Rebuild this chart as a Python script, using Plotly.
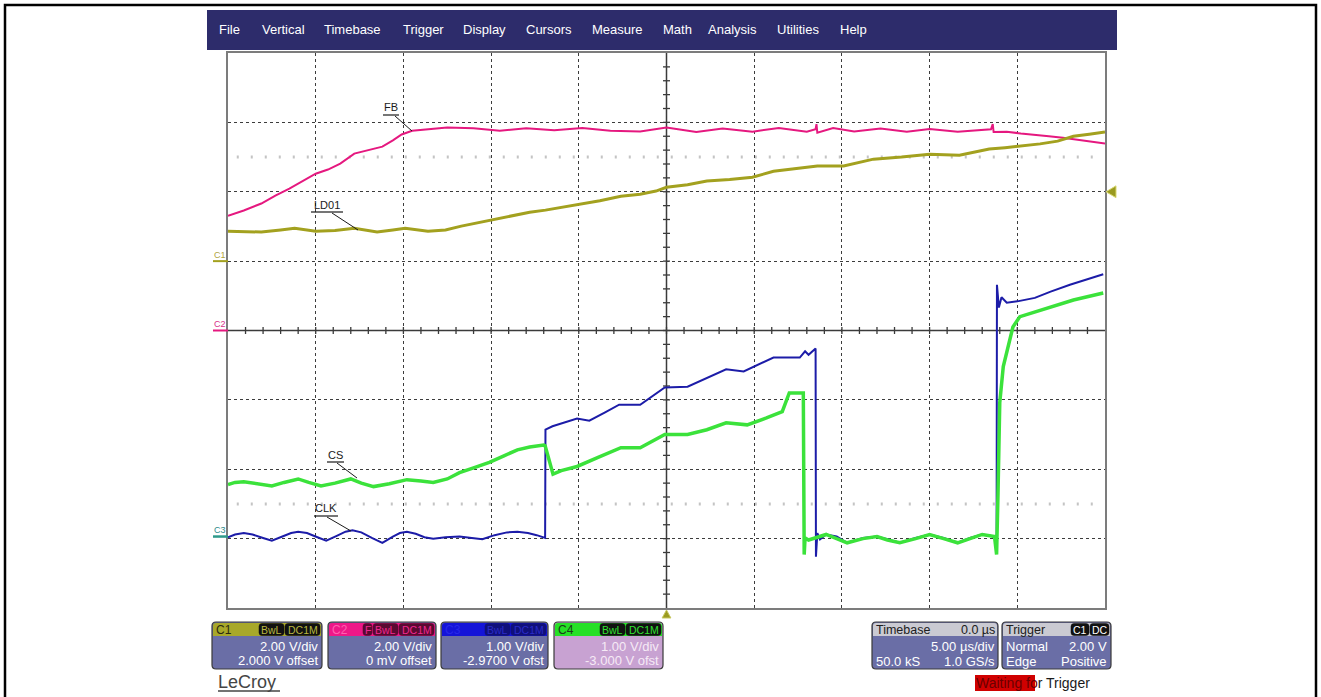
import plotly.graph_objects as go

# ---------------- data (time in microseconds, volts) ----------------
t_ld = [-25.0, -24.0, -23.1, -22.0, -21.2, -20.0, -18.9, -17.8, -16.5, -15.6,
        -14.9, -13.6, -12.6, -11.7, -10.8, -9.8, -8.8, -7.8, -6.9, -6.0,
        -5.0, -3.8, -2.6, -1.5, -0.6, 0.0, 1.2, 2.3, 3.6, 4.9,
        6.1, 7.3, 8.6, 10.1, 11.0, 11.8, 13.4, 15.0, 16.7, 17.6,
        18.4, 19.3, 20.2, 21.3, 22.3, 23.2, 24.1, 25.0]
v_ld = [0.86, 0.85, 0.84, 0.90, 0.95, 0.86, 0.88, 0.95, 0.84, 0.90,
        0.95, 0.86, 0.90, 1.01, 1.10, 1.21, 1.30, 1.41, 1.47, 1.55,
        1.64, 1.74, 1.87, 1.93, 2.02, 2.13, 2.20, 2.31, 2.35, 2.42,
        2.59, 2.66, 2.74, 2.74, 2.85, 2.94, 3.00, 3.08, 3.05, 3.15,
        3.23, 3.27, 3.31, 3.38, 3.46, 3.60, 3.66, 3.72]

t_fb = [-25.0, -24.1, -23.1, -22.3, -21.5, -20.6, -20.0, -19.3, -18.6, -17.8,
        -17.0, -16.2, -15.6, -15.1, -14.5, -13.6, -12.5, -11.0, -9.5, -8.0,
        -6.4, -4.8, -3.2, -1.5, 0.0, 1.7, 3.2, 4.9, 6.4, 8.0,
        8.5, 8.55, 8.6, 9.5, 10.7, 12.2, 13.7, 15.0, 16.6, 18.5,
        18.6, 18.65, 19.4, 20.2, 21.0, 21.8, 22.6, 23.4, 24.2, 25.0]
v_fb = [3.31, 3.46, 3.66, 3.89, 4.09, 4.35, 4.52, 4.64, 4.81, 5.10,
        5.19, 5.30, 5.48, 5.65, 5.76, 5.80, 5.85, 5.83, 5.76, 5.83,
        5.77, 5.84, 5.76, 5.74, 5.85, 5.72, 5.82, 5.73, 5.84, 5.73,
        5.80, 5.95, 5.70, 5.84, 5.74, 5.82, 5.73, 5.81, 5.73, 5.80,
        5.95, 5.72, 5.73, 5.68, 5.65, 5.60, 5.56, 5.50, 5.45, 5.39]

t_clk = [-25.0, -24.6, -24.1, -23.6, -23.0, -22.5, -21.9, -21.4, -21.0, -20.5,
         -19.9, -19.4, -18.8, -18.3, -17.9, -17.4, -16.8, -16.2, -15.6, -15.2,
         -14.8, -14.3, -13.8, -13.3, -12.6, -11.8, -11.1, -10.5, -9.8, -9.1,
         -8.5, -7.9, -7.4, -7.0, -6.92, -6.9, -6.5, -5.1, -4.4, -3.5,
         -2.7, -1.5, -0.7, -0.1, 1.2, 2.3, 3.4, 4.4, 5.3, 6.1,
         7.6, 7.9, 8.1, 8.5, 8.52, 8.6, 8.75, 9.1, 9.7, 10.3,
         11.2, 12.0, 12.6, 13.3, 14.2, 15.0, 15.8, 16.6, 17.3, 18.0,
         18.7, 18.82, 18.84, 18.95, 19.1, 19.4, 20.0, 21.0, 21.9, 23.0,
         24.9]
v_clk = [-0.01, 0.03, 0.05, 0.03, -0.02, -0.06, 0.00, 0.05, 0.07, 0.05,
         -0.01, -0.06, 0.01, 0.07, 0.09, 0.06, -0.02, -0.09, 0.00, 0.05,
         0.07, 0.04, -0.01, -0.03, -0.01, 0.00, -0.02, -0.04, 0.02, 0.06,
         0.07, 0.05, 0.02, -0.01, -0.02, 1.54, 1.59, 1.70, 1.67, 1.79,
         1.90, 1.90, 2.05, 2.15, 2.16, 2.29, 2.41, 2.38, 2.48, 2.58,
         2.58, 2.67, 2.62, 2.71, -0.29, 0.05, -0.04, 0.03, 0.00, -0.09,
         -0.02, 0.00, -0.04, -0.09, -0.02, 0.03, -0.02, -0.09, -0.02, 0.03,
         0.00, 0.00, 3.63, 3.30, 3.45, 3.37, 3.39, 3.44, 3.53, 3.63,
         3.78]

t_cs = [-25.0, -24.6, -24.1, -23.5, -22.9, -22.5, -21.8, -21.0, -20.4, -19.7,
        -18.9, -18.0, -17.4, -16.7, -15.8, -14.8, -14.0, -13.3, -12.5, -11.8,
        -11.0, -10.1, -9.3, -8.5, -7.8, -7.0, -6.92, -6.7, -6.47, -6.0,
        -5.1, -3.9, -2.6, -1.5, -0.1, 1.2, 2.3, 3.4, 4.6, 5.7,
        6.6, 7.0, 7.8, 7.85, 7.9, 8.1, 9.1, 9.7, 10.3, 11.2,
        12.0, 12.6, 13.3, 14.2, 15.0, 15.8, 16.6, 17.3, 18.0, 18.7,
        18.82, 18.9, 19.0, 19.2, 19.4, 19.75, 20.15, 20.9, 21.9, 23.2,
        24.9]
v_cs = [0.78, 0.81, 0.82, 0.80, 0.77, 0.76, 0.81, 0.86, 0.81, 0.76,
        0.80, 0.86, 0.80, 0.75, 0.79, 0.85, 0.83, 0.81, 0.86, 0.95,
        1.02, 1.10, 1.19, 1.28, 1.32, 1.35, 1.34, 1.15, 0.93, 0.98,
        1.04, 1.17, 1.31, 1.31, 1.50, 1.50, 1.57, 1.67, 1.64, 1.74,
        1.83, 2.10, 2.10, -0.23, 0.01, -0.02, 0.06, 0.00, -0.06, 0.00,
        0.03, -0.02, -0.06, 0.00, 0.06, 0.00, -0.06, 0.00, 0.06, 0.03,
        -0.23, 0.66, 1.96, 2.48, 2.68, 3.05, 3.20, 3.26, 3.34, 3.44,
        3.54]

trace_labels = ["LD01", "FB", "CLK", "CS"]
menu_items = ["File", "Vertical", "Timebase", "Trigger", "Display", "Cursors",
              "Measure", "Math", "Analysis", "Utilities", "Help"]

# channel settings: (volts/div, offset)
C1_SCALE, C1_OFS = 2.0, 2.0
C2_SCALE, C2_OFS = 2.0, 0.0
C3_SCALE, C3_OFS = 1.0, -2.97
C4_SCALE, C4_OFS = 1.0, -3.0
TB = 5.0  # us/div

def vrange(scale, ofs):
    c = -ofs
    return [c - 4 * scale, c + 4 * scale]

# ---------------- colors ----------------
OLIVE = "#A3A11F"
MAGENTA = "#E5187F"
BLUE = "#1C1CA8"
GREEN = "#3BE23B"

# ---------------- figure / layout geometry ----------------
W, H = 1321, 697
L, R, T, B = 228, 1105, 53, 608

def PX(x):
    return (x - L) / (R - L)

def PY(y):
    return (B - y) / (B - T)

fig = go.Figure()
fig.add_trace(go.Scatter(x=t_ld, y=v_ld, yaxis="y2", mode="lines",
                         line=dict(color=OLIVE, width=3), name="LD01"))
fig.add_trace(go.Scatter(x=t_fb, y=v_fb, yaxis="y", mode="lines",
                         line=dict(color=MAGENTA, width=2), name="FB"))
fig.add_trace(go.Scatter(x=t_clk, y=v_clk, yaxis="y3", mode="lines",
                         line=dict(color=BLUE, width=2), name="CLK"))
fig.add_trace(go.Scatter(x=t_cs, y=v_cs, yaxis="y4", mode="lines",
                         line=dict(color=GREEN, width=3.5), name="CS"))

shapes = []
ann = []

def rect(x0, y0, x1, y1, fill, line=None, lw=0):
    shapes.append(dict(type="rect", xref="paper", yref="paper",
                       x0=PX(x0), x1=PX(x1), y0=PY(y1), y1=PY(y0),
                       fillcolor=fill, line=dict(color=line or fill, width=lw),
                       layer="above"))

def rrect(x0, y0, x1, y1, fill, line="#3a3a3a", lw=1, r=4, top=True, bottom=True):
    rt = r if top else 0
    rb = r if bottom else 0
    def p(x, y):
        return f"{PX(x):.5f},{PY(y):.5f}"
    d = (f"M {p(x0 + rt, y0)} L {p(x1 - rt, y0)} Q {p(x1, y0)} {p(x1, y0 + rt)} "
         f"L {p(x1, y1 - rb)} Q {p(x1, y1)} {p(x1 - rb, y1)} "
         f"L {p(x0 + rb, y1)} Q {p(x0, y1)} {p(x0, y1 - rb)} "
         f"L {p(x0, y0 + rt)} Q {p(x0, y0)} {p(x0 + rt, y0)} Z")
    shapes.append(dict(type="path", xref="paper", yref="paper", path=d,
                       fillcolor=fill, line=dict(color=line, width=lw), layer="above"))

def seg(x0, y0, x1, y1, color, w=1):
    shapes.append(dict(type="line", xref="paper", yref="paper",
                       x0=PX(x0), x1=PX(x1), y0=PY(y0), y1=PY(y1),
                       line=dict(color=color, width=w), layer="above"))

def txt(x, y, s, size=12, color="#ffffff", xanchor="left", bg=None, family="Liberation Sans, Arial", pad=0):
    d = dict(xref="paper", yref="paper", x=PX(x), y=PY(y), text=s, showarrow=False,
             xanchor=xanchor, yanchor="middle", font=dict(size=size, color=color, family=family),
             borderpad=pad)
    if bg:
        d["bgcolor"] = bg
    ann.append(d)

# outer border
shapes.append(dict(type="rect", xref="paper", yref="paper", x0=PX(5), x1=PX(1316),
                   y0=PY(702), y1=PY(5), line=dict(color="#000000", width=2.5), layer="below"))

# menu bar
rect(207, 10, 1117, 50, "#2D2C6B")
menu_x = [218, 261, 323, 402, 462, 525, 591, 662, 707, 776, 839]
for m, mx in zip(menu_items, menu_x):
    txt(mx, 30, m, size=13, color="#ffffff",
        family="Liberation Sans Narrow, Arial Narrow, Liberation Sans, Arial")

# sparse dotted half-division rows
for yv in (5.0, -5.0):
    shapes.append(dict(type="line", xref="paper", yref="y", x0=0.01, x1=0.99, y0=yv, y1=yv,
                       line=dict(color="#c4c4c4", width=3, dash="2px,12px"), layer="below"))

# center cross with minor ticks
shapes.append(dict(type="line", xref="paper", yref="y", x0=0, x1=1, y0=0, y1=0,
                   line=dict(color="#3a3a3a", width=1.5), layer="below"))
shapes.append(dict(type="line", xref="x", yref="paper", x0=0, x1=0, y0=0, y1=1,
                   line=dict(color="#3a3a3a", width=1.5), layer="below"))
hx = 3.5 / (R - L)
hy = 3.5 / (B - T)
for k in range(-24, 25):
    shapes.append(dict(type="line", xref="x", yref="paper", x0=k, x1=k, y0=0.5 - hy, y1=0.5 + hy,
                       line=dict(color="#3a3a3a", width=1.3), layer="below"))
for k in range(-19, 20):
    yv = k * 0.4
    shapes.append(dict(type="line", xref="paper", yref="y", x0=0.5 - hx, x1=0.5 + hx, y0=yv, y1=yv,
                       line=dict(color="#3a3a3a", width=1.3), layer="below"))

# ground markers at left
txt(220, 255, "C1", size=9, color="#B0A440", xanchor="center")
shapes.append(dict(type="line", xref="paper", yref="y2", x0=PX(213), x1=PX(228), y0=0, y1=0,
                   line=dict(color=OLIVE, width=2)))
txt(220, 324, "C2", size=9, color="#D8308A", xanchor="center")
shapes.append(dict(type="line", xref="paper", yref="y", x0=PX(213), x1=PX(228), y0=0, y1=0,
                   line=dict(color=MAGENTA, width=2)))
txt(220, 530, "C3", size=9, color="#2E8A8A", xanchor="center")
shapes.append(dict(type="line", xref="paper", yref="y3", x0=PX(213), x1=PX(228), y0=0, y1=0,
                   line=dict(color="#2E9A8A", width=2.5)))

# trigger level marker (right) and trigger position marker (bottom)
tl = 2.0
shapes.append(dict(type="path", xref="paper", yref="y2",
                   path=f"M {PX(1106):.5f},{tl} L {PX(1116):.5f},{tl + 0.17} L {PX(1116):.5f},{tl - 0.17} Z",
                   fillcolor="#9A9A20", line=dict(color="#D8D870", width=1)))
shapes.append(dict(type="path", xref="x", yref="paper",
                   path=f"M -0.25,{PY(618):.5f} L 0.25,{PY(618):.5f} L 0,{PY(610):.5f} Z",
                   fillcolor="#9A9A20", line=dict(color="#C8C860", width=1)))

# trace labels with underline + leader
labels_geo = {
    "FB": ((391, 107), (383, 399, 115), (395, 116, 412, 131)),
    "LD01": ((327, 205), (311, 343, 212), (332, 213, 358, 230)),
    "CS": ((335, 455), (327, 344, 462), (337, 463, 357, 478)),
    "CLK": ((326, 508), (314, 338, 516), (327, 517, 351, 531)),
}
for name in trace_labels:
    (tx, ty), (ux0, ux1, uy), (lx0, ly0, lx1, ly1) = labels_geo[name]
    txt(tx, ty, name, size=11, color="#1a1a1a", xanchor="center")
    seg(ux0, uy, ux1, uy, "#1a1a1a", 1.2)
    seg(lx0, ly0, lx1, ly1, "#1a1a1a", 1)

# ---------------- bottom channel panels ----------------
BODY = "#6A6EA6"
panels = [
    (212, 322, "#A8A82A", "#2a2a10", "C1", ["BwL", "DC1M"], "#111111", "#B8B840", BODY, "#ffffff",
     "2.00 V/div", "2.000 V offset"),
    (328, 436, "#EE1888", "#FF60B0", "C2", ["F", "BwL", "DC1M"], "#5A0A32", "#F02890", BODY, "#ffffff",
     "2.00 V/div", "0 mV offset"),
    (441, 548, "#1414D8", "#2828E8", "C3", ["BwL", "DC1M"], "#10107A", "#2A2AC8", BODY, "#ffffff",
     "1.00 V/div", "-2.9700 V ofst"),
    (554, 663, "#26E026", "#1a3a1a", "C4", ["BwL", "DC1M"], "#111111", "#30E030", "#C8A2D2", "#F6EAF6",
     "1.00 V/div", "-3.000 V ofst"),
]
tag_w = {"F": 9, "BwL": 25, "DC1M": 35}
for (x0, x1, hc, htc, title, tags, tbg, tfg, bc, bfg, l1, l2) in panels:
    rrect(x0, 622, x1, 669, bc, line="#3a3a3a", lw=1.2, r=4)
    rrect(x0 + 1, 623, x1 - 1, 636, hc, line=hc, lw=0, r=3, bottom=False)
    txt(x0 + 3, 629.5, title, size=12, color=htc)
    xr = x1 - 2
    for tg in reversed(tags):
        w = tag_w[tg]
        rrect(xr - w, 623.5, xr, 635.5, tbg, line=tbg, lw=0.5, r=3)
        txt(xr - w / 2, 629.5, tg, size=10.5, color=tfg, xanchor="center")
        xr -= w + 1
    txt(x1 - 3, 646.5, l1, size=13, color=bfg, xanchor="right")
    txt(x1 - 3, 660.5, l2, size=13, color=bfg, xanchor="right")

# timebase panel
rrect(872, 622, 998, 669, BODY, line="#3a3a3a", lw=1.2, r=4)
rrect(873, 623, 997, 636, "#CACAD2", line="#CACAD2", lw=0, r=3, bottom=False)
txt(875, 629.5, "Timebase", size=12.5, color="#202020")
txt(996, 629.5, "0.0 µs", size=12.5, color="#202020", xanchor="right")
txt(996, 646.5, "5.00 µs/div", size=13, color="#ffffff", xanchor="right")
txt(875, 661, "50.0 kS", size=13, color="#ffffff")
txt(996, 661, "1.0 GS/s", size=13, color="#ffffff", xanchor="right")

# trigger panel
rrect(1002, 622, 1111, 669, BODY, line="#3a3a3a", lw=1.2, r=4)
rrect(1003, 623, 1110, 636, "#CACAD2", line="#CACAD2", lw=0, r=3, bottom=False)
txt(1005, 629.5, "Trigger", size=12.5, color="#202020")
rrect(1071, 623.5, 1089, 635.5, "#111111", line="#111111", lw=0.5, r=3)
txt(1080, 629.5, "C1", size=10.5, color="#ffffff", xanchor="center")
rrect(1090, 623.5, 1109, 635.5, "#111111", line="#111111", lw=0.5, r=3)
txt(1099.5, 629.5, "DC", size=10.5, color="#ffffff", xanchor="center")
txt(1005, 646.5, "Normal", size=13, color="#ffffff")
txt(1108, 646.5, "2.00 V", size=13, color="#ffffff", xanchor="right")
txt(1005, 661, "Edge", size=13, color="#ffffff")
txt(1108, 661, "Positive", size=13, color="#ffffff", xanchor="right")

# LeCroy logo text
txt(217, 682, "LeCroy", size=18, color="#454545")
seg(218, 691, 280, 691, "#454545", 1.5)

# waiting for trigger
rect(975, 675, 1035, 691, "#D00000")
txt(975, 683, "<span style='color:#6a0000'>Waiting fo</span>r Trigger", size=14, color="#1a1a1a")

grid_common = dict(showgrid=True, gridcolor="#3c3c3c", griddash="dot", gridwidth=1,
                   showticklabels=False, ticks="", zeroline=False,
                   showline=True, mirror=True, linecolor="#7c7c7c", linewidth=2)

fig.update_layout(
    width=W, height=H, autosize=False,
    margin=dict(l=L, r=W - R, t=T, b=H - B, pad=0),
    paper_bgcolor="#ffffff", plot_bgcolor="#ffffff",
    showlegend=False,
    xaxis=dict(range=[-5 * TB, 5 * TB], dtick=TB, **grid_common),
    yaxis=dict(range=vrange(C2_SCALE, C2_OFS), dtick=C2_SCALE, **grid_common),
    yaxis2=dict(range=vrange(C1_SCALE, C1_OFS), overlaying="y", visible=False),
    yaxis3=dict(range=vrange(C3_SCALE, C3_OFS), overlaying="y", visible=False),
    yaxis4=dict(range=vrange(C4_SCALE, C4_OFS), overlaying="y", visible=False),
    shapes=shapes,
    annotations=ann,
    font=dict(family="Liberation Sans, Arial"),
)

fig.write_html("out.html", config={"displayModeBar": False})
